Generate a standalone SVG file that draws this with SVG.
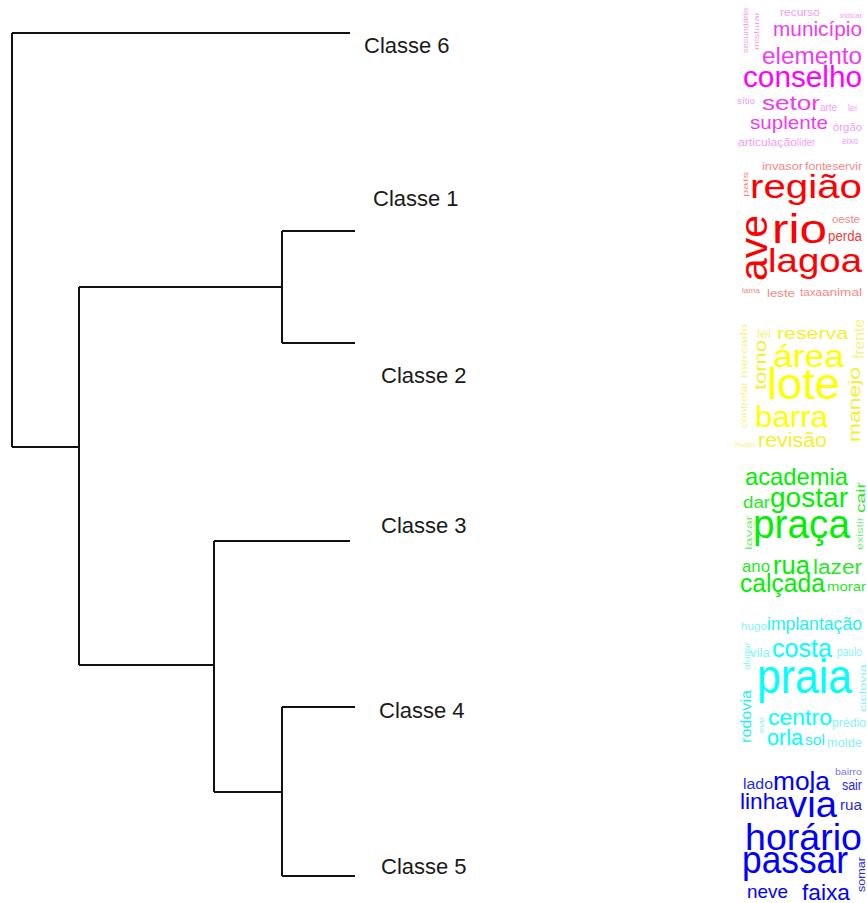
<svg xmlns="http://www.w3.org/2000/svg" width="867" height="903" viewBox="0 0 867 903">
  <style>
    .lbl { font-family: "Liberation Sans", Arial, sans-serif; font-size: 22px; fill: #1a1a1a; }
    .w { font-family: "Liberation Sans", Arial, sans-serif; }
    .edge { fill: none; stroke: #111; stroke-width: 2; }
    .c6 { fill: #ff00ff; } .c6l { fill: #ec3cec; } .c6x { fill: #f49cf4; }
    .c1 { fill: #ff0000; } .c1l { fill: #f43c3c; } .c1x { fill: #f48888; }
    .c2 { fill: #ffff00; } .c2l { fill: #f4f030; } .c2x { fill: #f6f288; }
    .c3 { fill: #00f000; } .c3l { fill: #28e828; } .c3x { fill: #78ea78; }
    .c4 { fill: #00ffff; } .c4l { fill: #28f0f0; } .c4x { fill: #88f2f2; }
    .c5 { fill: #0000ff; } .c5l { fill: #2828f0; } .c5x { fill: #7878f0; }
  </style>
  <rect width="867" height="903" fill="#ffffff"/>

  <!-- dendrogram branches -->
  <g id="connectors">
    <path class="edge" d="M12,33 V447 M12,33 H350 M12,447 H79"/>
    <path class="edge" d="M79,287 V665 M79,287 H282 M282,231 V343 M282,231 H355 M282,343 H355"/>
    <path class="edge" d="M79,665 H214 M214,541 V792 M214,541 H350 M214,792 H282"/>
    <path class="edge" d="M282,707 V876 M282,707 H355 M282,876 H355"/>
  </g>

  <!-- leaf labels -->
  <g id="classe6"><text class="lbl" x="364" y="53">Classe 6</text></g>
  <g id="classe1"><text class="lbl" x="373" y="206">Classe 1</text></g>
  <g id="classe2"><text class="lbl" x="381" y="383">Classe 2</text></g>
  <g id="classe3"><text class="lbl" x="381" y="533">Classe 3</text></g>
  <g id="classe4"><text class="lbl" x="379" y="718">Classe 4</text></g>
  <g id="classe5"><text class="lbl" x="381" y="874">Classe 5</text></g>

  <!-- word cloud: Classe 6 -->
  <g id="cloud6" class="w">
    <text class="c6x" font-size="7" transform="translate(748,53) rotate(-90)" textLength="45" lengthAdjust="spacingAndGlyphs">secundário</text>
    <text class="c6x" font-size="7" transform="translate(759,50) rotate(-90)" textLength="38" lengthAdjust="spacingAndGlyphs">misturar</text>
    <text class="c6x" x="780" y="16" font-size="10" textLength="40" lengthAdjust="spacingAndGlyphs">recurso</text>
    <text class="c6x" x="840" y="18" font-size="8" textLength="22" lengthAdjust="spacingAndGlyphs">indicar</text>
    <text class="c6l" x="773" y="36" font-size="20" textLength="89" lengthAdjust="spacingAndGlyphs">município</text>
    <text class="c6l" x="762" y="64" font-size="24" textLength="100" lengthAdjust="spacingAndGlyphs">elemento</text>
    <text class="c6" x="743" y="87" font-size="29" textLength="119" lengthAdjust="spacingAndGlyphs">conselho</text>
    <text class="c6x" x="737" y="104" font-size="9" textLength="18" lengthAdjust="spacingAndGlyphs">sítio</text>
    <text class="c6l" x="762" y="110" font-size="20" textLength="58" lengthAdjust="spacingAndGlyphs">setor</text>
    <text class="c6x" x="820" y="111" font-size="10" textLength="17" lengthAdjust="spacingAndGlyphs">arte</text>
    <text class="c6x" x="848" y="111" font-size="9" textLength="9" lengthAdjust="spacingAndGlyphs">lei</text>
    <text class="c6l" x="750" y="129" font-size="19" textLength="78" lengthAdjust="spacingAndGlyphs">suplente</text>
    <text class="c6x" x="833" y="131" font-size="10" textLength="29" lengthAdjust="spacingAndGlyphs">órgão</text>
    <text class="c6x" x="738" y="146" font-size="10" textLength="59" lengthAdjust="spacingAndGlyphs">articulação</text>
    <text class="c6x" x="797" y="146" font-size="10" textLength="18" lengthAdjust="spacingAndGlyphs">líder</text>
    <text class="c6x" x="842" y="144" font-size="9" textLength="16" lengthAdjust="spacingAndGlyphs">eixo</text>
  </g>

  <!-- word cloud: Classe 1 -->
  <g id="cloud1" class="w">
    <text class="c1x" x="762" y="170" font-size="11" textLength="41" lengthAdjust="spacingAndGlyphs">invasor</text>
    <text class="c1x" x="805" y="170" font-size="11" textLength="57" lengthAdjust="spacingAndGlyphs">fonteservir</text>
    <text class="c1x" font-size="8" transform="translate(748,197) rotate(-90)" textLength="25" lengthAdjust="spacingAndGlyphs">país</text>
    <text class="c1" x="750" y="198" font-size="33" textLength="112" lengthAdjust="spacingAndGlyphs">região</text>
    <text class="c1" font-size="38" transform="translate(767,281) rotate(-90)" textLength="66" lengthAdjust="spacingAndGlyphs">ave</text>
    <text class="c1" x="772" y="243" font-size="40" textLength="55" lengthAdjust="spacingAndGlyphs">rio</text>
    <text class="c1x" x="832" y="223" font-size="11" textLength="28" lengthAdjust="spacingAndGlyphs">oeste</text>
    <text class="c1l" x="828" y="241" font-size="14" textLength="34" lengthAdjust="spacingAndGlyphs">perda</text>
    <text class="c1" x="768" y="272" font-size="33" textLength="94" lengthAdjust="spacingAndGlyphs">lagoa</text>
    <text class="c1x" x="742" y="293" font-size="7" textLength="18" lengthAdjust="spacingAndGlyphs">lama</text>
    <text class="c1x" x="767" y="297" font-size="11" textLength="28" lengthAdjust="spacingAndGlyphs">leste</text>
    <text class="c1x" x="800" y="296" font-size="11" textLength="22" lengthAdjust="spacingAndGlyphs">taxa</text>
    <text class="c1x" x="822" y="296" font-size="11" textLength="40" lengthAdjust="spacingAndGlyphs">animal</text>
  </g>

  <!-- word cloud: Classe 2 -->
  <g id="cloud2" class="w">
    <text class="c2x" font-size="9" transform="translate(747,378) rotate(-90)" textLength="54" lengthAdjust="spacingAndGlyphs">mercado</text>
    <text class="c2x" font-size="9" transform="translate(747,428) rotate(-90)" textLength="46" lengthAdjust="spacingAndGlyphs">controlar</text>
    <text class="c2l" font-size="16" transform="translate(766,390) rotate(-90)" textLength="50" lengthAdjust="spacingAndGlyphs">torno</text>
    <text class="c2x" x="757" y="338" font-size="12" textLength="14" lengthAdjust="spacingAndGlyphs">lei</text>
    <text class="c2l" x="777" y="339" font-size="17" textLength="71" lengthAdjust="spacingAndGlyphs">reserva</text>
    <text class="c2x" font-size="14" transform="translate(864,359) rotate(-90)" textLength="40" lengthAdjust="spacingAndGlyphs">frente</text>
    <text class="c2" x="773" y="367" font-size="31" textLength="71" lengthAdjust="spacingAndGlyphs">área</text>
    <text class="c2" x="767" y="399" font-size="45" textLength="73" lengthAdjust="spacingAndGlyphs">lote</text>
    <text class="c2l" font-size="17" transform="translate(860,442) rotate(-90)" textLength="75" lengthAdjust="spacingAndGlyphs">manejo</text>
    <text class="c2" x="755" y="427" font-size="30" textLength="73" lengthAdjust="spacingAndGlyphs">barra</text>
    <text class="c2l" x="758" y="447" font-size="20" textLength="69" lengthAdjust="spacingAndGlyphs">revisão</text>
    <text class="c2x" x="735" y="447" font-size="8" textLength="20" lengthAdjust="spacingAndGlyphs">maio</text>
  </g>

  <!-- word cloud: Classe 3 -->
  <g id="cloud3" class="w">
    <text class="c3" x="745" y="485" font-size="24" textLength="103" lengthAdjust="spacingAndGlyphs">academia</text>
    <text class="c3l" font-size="13" transform="translate(865,513) rotate(-90)" textLength="31" lengthAdjust="spacingAndGlyphs">cair</text>
    <text class="c3l" x="743" y="508" font-size="16" textLength="27" lengthAdjust="spacingAndGlyphs">dar</text>
    <text class="c3" x="770" y="507" font-size="28" textLength="78" lengthAdjust="spacingAndGlyphs">gostar</text>
    <text class="c3x" font-size="9" transform="translate(752,550) rotate(-90)" textLength="35" lengthAdjust="spacingAndGlyphs">lavar</text>
    <text class="c3x" font-size="9" transform="translate(863,550) rotate(-90)" textLength="33" lengthAdjust="spacingAndGlyphs">existir</text>
    <text class="c3" x="753" y="538" font-size="40" textLength="97" lengthAdjust="spacingAndGlyphs">praça</text>
    <text class="c3l" x="742" y="572" font-size="16" textLength="28" lengthAdjust="spacingAndGlyphs">ano</text>
    <text class="c3" x="773" y="574" font-size="26" textLength="37" lengthAdjust="spacingAndGlyphs">rua</text>
    <text class="c3l" x="813" y="574" font-size="20" textLength="49" lengthAdjust="spacingAndGlyphs">lazer</text>
    <text class="c3" x="740" y="592" font-size="25" textLength="85" lengthAdjust="spacingAndGlyphs">calçada</text>
    <text class="c3l" x="827" y="591" font-size="13" textLength="39" lengthAdjust="spacingAndGlyphs">morar</text>
  </g>

  <!-- word cloud: Classe 4 -->
  <g id="cloud4" class="w">
    <text class="c4x" x="741" y="630" font-size="11" textLength="26" lengthAdjust="spacingAndGlyphs">hugo</text>
    <text class="c4l" x="767" y="630" font-size="19" textLength="95" lengthAdjust="spacingAndGlyphs">implantação</text>
    <text class="c4x" font-size="9" transform="translate(750,670) rotate(-90)" textLength="28" lengthAdjust="spacingAndGlyphs">alugar</text>
    <text class="c4x" x="750" y="657" font-size="12" textLength="20" lengthAdjust="spacingAndGlyphs">vila</text>
    <text class="c4" x="772" y="657" font-size="26" textLength="60" lengthAdjust="spacingAndGlyphs">costa</text>
    <text class="c4x" x="837" y="656" font-size="12" textLength="25" lengthAdjust="spacingAndGlyphs">paulo</text>
    <text class="c4" x="757" y="693" font-size="48" textLength="95" lengthAdjust="spacingAndGlyphs">praia</text>
    <text class="c4x" font-size="9" transform="translate(866,712) rotate(-90)" textLength="48" lengthAdjust="spacingAndGlyphs">ciclovia</text>
    <text class="c4l" font-size="15" transform="translate(751,743) rotate(-90)" textLength="53" lengthAdjust="spacingAndGlyphs">rodovia</text>
    <text class="c4x" font-size="8" transform="translate(764,733) rotate(-90)" textLength="16" lengthAdjust="spacingAndGlyphs">mar</text>
    <text class="c4" x="768" y="725" font-size="22" textLength="64" lengthAdjust="spacingAndGlyphs">centro</text>
    <text class="c4x" x="832" y="727" font-size="13" textLength="34" lengthAdjust="spacingAndGlyphs">prédio</text>
    <text class="c4" x="767" y="745" font-size="22" textLength="36" lengthAdjust="spacingAndGlyphs">orla</text>
    <text class="c4l" x="805" y="745" font-size="14" textLength="20" lengthAdjust="spacingAndGlyphs">sol</text>
    <text class="c4x" x="827" y="747" font-size="12" textLength="35" lengthAdjust="spacingAndGlyphs">molde</text>
  </g>

  <!-- word cloud: Classe 5 -->
  <g id="cloud5" class="w">
    <text class="c5x" x="835" y="775" font-size="9" textLength="27" lengthAdjust="spacingAndGlyphs">bairro</text>
    <text class="c5l" x="743" y="789" font-size="14" textLength="30" lengthAdjust="spacingAndGlyphs">lado</text>
    <text class="c5" x="773" y="790" font-size="26" textLength="57" lengthAdjust="spacingAndGlyphs">mola</text>
    <text class="c5l" x="842" y="790" font-size="14" textLength="20" lengthAdjust="spacingAndGlyphs">sair</text>
    <text class="c5" x="740" y="809" font-size="22" textLength="48" lengthAdjust="spacingAndGlyphs">linha</text>
    <text class="c5" x="788" y="817" font-size="36" textLength="49" lengthAdjust="spacingAndGlyphs">via</text>
    <text class="c5l" x="840" y="810" font-size="14" textLength="22" lengthAdjust="spacingAndGlyphs">rua</text>
    <text class="c5" x="745" y="850" font-size="36" textLength="117" lengthAdjust="spacingAndGlyphs">horário</text>
    <text class="c5" x="742" y="873" font-size="38" textLength="106" lengthAdjust="spacingAndGlyphs">passar</text>
    <text class="c5l" font-size="10" transform="translate(865,892) rotate(-90)" textLength="35" lengthAdjust="spacingAndGlyphs">somar</text>
    <text class="c5" x="747" y="898" font-size="19" textLength="41" lengthAdjust="spacingAndGlyphs">neve</text>
    <text class="c5" x="802" y="900" font-size="22" textLength="48" lengthAdjust="spacingAndGlyphs">faixa</text>
  </g>
</svg>
